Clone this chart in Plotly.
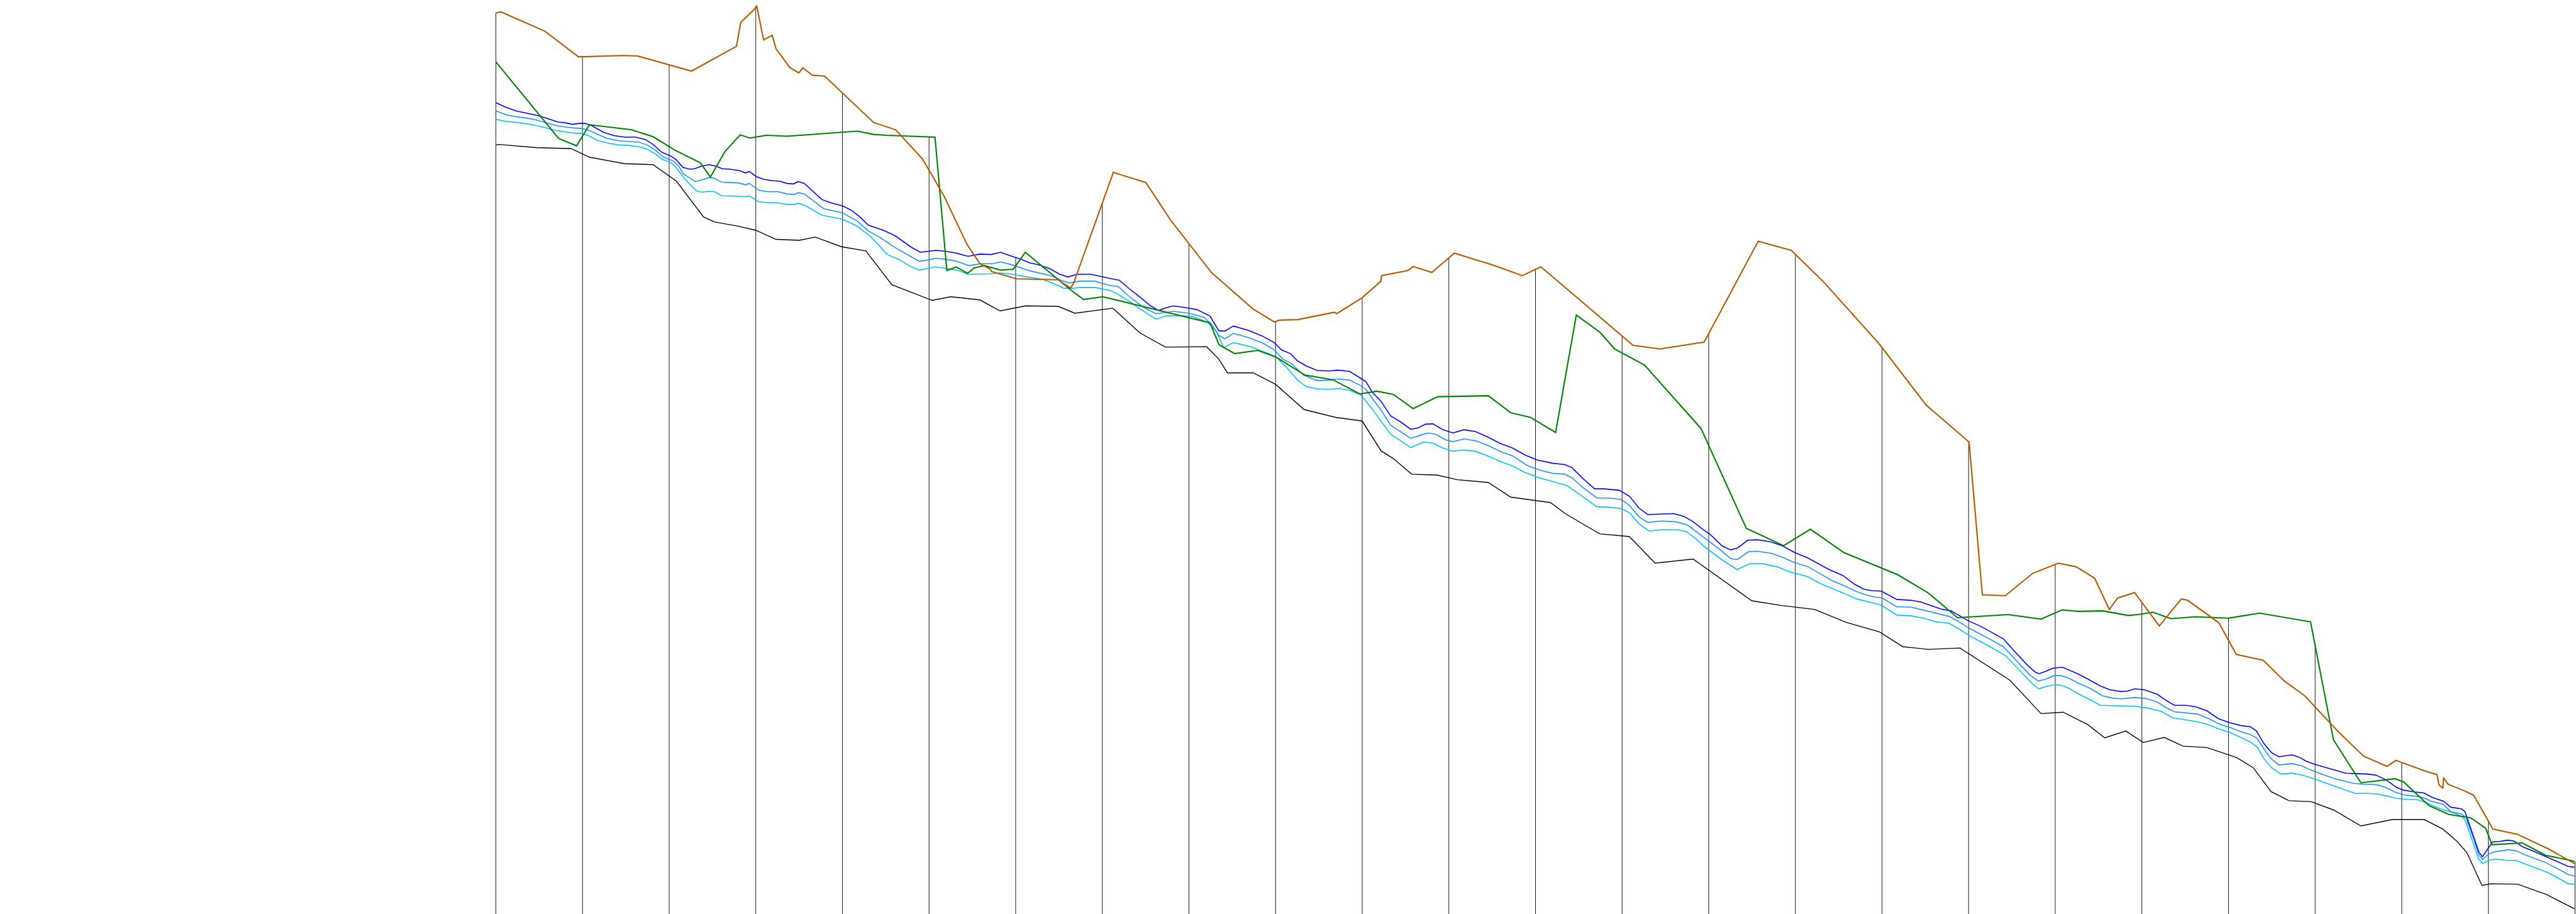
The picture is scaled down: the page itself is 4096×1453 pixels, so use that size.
import numpy as np
import plotly.graph_objects as go

# x = day index (vertical guide every 7 days), y = value
week_ticks = list(range(0, 169, 7))

orange = [(0.0,196.5),(0.41,196.7),(3.96,192.5),(6.67,186.9),(10.33,187.2),(11.44,187.1),(15.81,183.8),
    (19.44,189.2),(19.78,194.4),(20.89,197.3),(21.07,198.1),(21.63,190.6),(22.33,191.6),(22.63,188.7),
    (23.74,184.6),(24.48,183.4),(24.81,184.5),(25.56,182.9),(26.56,182.7),(30.52,172.6),(32.30,171.0),
    (34.48,164.6),(36.22,156.5),(38.07,146.0),(39.11,141.8),(39.96,140.6),(40.04,140.1),(42.07,138.5),
    (45.41,138.3),(46.44,136.5),(46.67,137.5),(49.89,161.7),(52.52,159.5),(54.52,151.3),(57.81,139.9),
    (61.19,131.9),(62.89,129.1),(63.33,129.5),(64.78,129.6),(67.74,131.2),(67.93,130.9),(69.96,134.3),
    (71.52,138.0),(71.56,139.2),(73.70,140.3),(74.11,141.2),(75.63,139.9),(77.44,144.1),(80.59,141.5),
    (82.93,139.2),(84.44,141.1),(91.89,124.0),(94.07,123.2),(97.63,124.7),(102.0,146.7),(104.67,144.7),
    (107.26,137.9),(111.78,124.3),(115.56,111.0),(119.04,102.9),(120.11,69.6),(121.96,69.4),(124.19,74.3),
    (126.26,76.5),(127.70,75.7),(129.19,73.2),(130.37,66.4),(131.04,68.9),(132.41,70.1),(134.41,62.8),
    (136.19,68.7),(136.70,68.4),(139.22,63.5),(140.63,56.6),(142.81,55.3),(144.52,50.8),(146.15,47.6),
    (148.96,39.5),(150.93,34.4),(152.81,32.2),(153.52,33.5),(155.85,31.2),(156.85,30.4),(157.0,28.2),
    (157.33,27.4),(157.37,29.7),(157.74,28.3),(159.11,26.8),(159.81,25.9),(161.37,18.5),(163.33,17.4),
    (165.85,14.2),(167.96,11.0)]

green = [(0.0,185.8),(5.07,169.1),(6.52,167.5),(7.56,172.1),(10.96,171.0),(12.70,169.5),(14.44,166.6),
    (16.52,163.8),(17.33,160.7),(18.52,166.3),(19.74,169.9),(20.52,169.2),(21.85,169.8),(23.52,169.6),
    (29.19,170.7),(30.52,170.0),(31.48,169.8),(35.48,169.4),(36.44,140.3),(37.19,141.1),(38.11,139.7),
    (38.67,140.9),(39.48,141.4),(40.78,140.4),(41.81,140.6),(42.78,144.3),(46.44,136.1),(47.48,134.0),
    (49.04,134.6),(57.70,128.9),(58.44,124.1),(59.70,122.2),(61.56,122.9),(63.0,121.5),(65.37,117.5),
    (67.63,116.5),(69.81,113.4),(71.19,114.0),(72.52,113.3),(74.11,110.2),(76.11,112.8),(80.19,113.0),
    (82.0,109.3),(83.59,108.3),(85.63,105.0),(87.30,130.6),(89.19,126.9),(90.41,123.2),(92.81,119.7),
    (97.37,105.9),(101.04,84.1),(104.04,80.3),(106.22,83.9),(108.93,78.8),(113.26,74.0),(115.74,70.0),
    (118.11,64.6),(122.19,65.3),(124.85,64.3),(126.56,66.3),(127.85,66.0),(129.85,66.1),(131.89,65.1),
    (132.70,65.3),(133.89,65.8),(135.37,64.4),(137.33,64.8),(139.96,64.5),(142.52,65.6),(145.85,64.0),
    (146.63,63.7),(148.48,38.0),(150.70,28.6),(153.44,29.5),(154.15,28.8),(156.22,23.6),(157.81,21.7),
    (159.56,21.0),(160.78,18.7),(161.30,15.1),(163.74,15.5),(165.63,12.8),(167.96,11.5)]

black = [(0.0,167.7),(0.22,167.8),(3.30,167.1),(6.07,166.9),(7.59,165.0),(10.41,163.6),(12.70,163.4),
    (14.59,159.8),(16.78,152.0),(17.67,150.9),(19.52,150.0),(20.99,149.1),(22.63,147.1),(24.52,146.9),
    (25.81,147.6),(27.93,145.5),(29.89,144.6),(32.0,137.2),(35.26,133.8),(36.74,134.6),(39.11,133.9),
    (40.74,131.5),(42.81,132.6),(45.44,132.5),(46.78,131.0),(49.85,132.1),(52.04,126.7),(54.11,123.6),
    (57.44,123.7),(58.41,121.0),(59.11,118.0),(61.19,118.0),(63.0,115.5),(65.30,110.0),(67.85,108.3),
    (70.0,107.5),(71.52,101.0),(72.52,99.3),(74.0,95.9),(76.07,95.7),(77.70,94.7),(80.19,94.1),(82.0,90.9),
    (85.22,89.7),(86.41,87.3),(89.19,82.9),(91.59,82.3),(93.67,76.5),(96.74,77.4),(101.48,68.3),
    (103.81,67.3),(106.56,66.4),(109.11,63.6),(111.81,61.5),(113.67,58.3),(115.74,57.7),(118.30,58.0),
    (122.33,51.0),(124.85,43.7),(126.63,44.0),(128.63,41.3),(130.0,38.4),(131.70,39.9),(133.11,37.4),
    (134.81,38.5),(136.33,36.6),(138.26,36.3),(140.67,34.1),(142.0,31.9),(143.44,26.7),(144.89,24.7),
    (146.67,24.5),(148.48,22.7),(150.70,19.2),(153.26,20.6),(155.81,20.6),(157.33,18.5),(158.48,15.8),
    (159.26,13.4),(160.48,6.2),(161.19,6.6),(163.37,6.5),(165.74,4.2),(167.96,1.1)]

blue = [(0.0,176.9),(0.81,175.9),(1.67,175.1),(2.52,174.6),(3.41,174.1),(4.33,173.3),(5.04,172.7),(5.63,172.5),
    (6.19,172.2),(6.74,172.4),(7.19,172.4),(7.74,171.9),(8.74,170.4),(9.59,169.7),(10.44,169.4),(11.30,169.4),
    (12.07,168.9),(12.70,167.8),(13.41,166.1),(14.11,165.3),(14.56,164.5),(15.11,162.8),(15.67,162.4),
    (16.04,162.5),(16.67,163.1),(17.22,163.4),(17.74,163.1),(18.30,162.5),(18.93,162.4),(19.67,162.1),
    (20.15,161.6),(20.48,161.9),(21.04,160.8),(21.63,160.2),(22.33,159.9),(22.93,159.8),(23.52,159.3),
    (24.04,159.2),(24.44,159.7),(24.93,159.3),(25.52,157.8),(26.33,155.8),(27.04,155.1),(28.0,154.4),
    (28.70,153.5),(29.41,152.0),(30.11,150.2),(30.70,149.7),(31.30,149.1),(32.26,147.9),(32.96,146.6),
    (33.56,145.4),(34.30,144.3),(34.96,144.5),(35.56,144.7),(36.37,144.5),(37.22,144.1),(38.15,143.4),
    (39.11,143.9),(40.04,143.8),(40.78,144.3),(41.59,143.5),(42.41,142.8),(43.11,142.0),(43.81,141.6),
    (44.78,140.7),(45.56,139.5),(46.22,138.9),(46.96,139.5),(48.07,139.5),(49.0,138.9),(49.78,138.5),
    (50.37,138.2),(51.33,136.0),(52.15,134.3),(52.85,132.7),(53.56,131.6),(54.15,132.2),(54.74,132.6),
    (55.56,132.3),(56.63,131.8),(57.70,130.4),(58.41,127.2),(58.89,127.1),(59.59,128.2),(60.78,127.3),
    (61.96,126.0),(62.89,124.6),(63.48,123.0),(64.19,122.2),(64.78,120.6),(65.48,119.5),(66.37,118.5),
    (67.30,118.4),(68.07,118.6),(69.0,118.3),(69.89,116.8),(70.30,116.1),(70.81,113.8),(71.52,111.8),
    (72.30,108.6),(73.11,107.3),(73.93,105.7),(74.52,106.0),(75.11,106.8),(75.70,106.9),(76.52,105.6),
    (77.33,104.9),(78.22,105.6),(79.15,105.2),(80.15,104.0),(81.15,102.6),(82.15,101.6),(83.15,100.1),
    (84.15,99.0),(85.37,98.3),(86.37,98.0),(86.96,97.3),(87.78,95.1),(88.78,92.7),(89.56,92.7),(90.78,92.4),
    (91.59,91.1),(92.37,88.5),(93.07,87.1),(94.0,87.2),(95.19,87.3),(96.0,86.7),(96.70,85.6),(97.52,83.9),
    (98.11,82.8),(99.11,80.2),(99.78,79.4),(100.33,79.8),(101.15,81.5),(101.93,81.6),(102.93,81.2),
    (103.93,80.3),(104.96,78.8),(105.96,77.7),(106.74,76.6),(107.74,75.1),(108.85,73.8),(109.78,71.9),
    (110.56,70.8),(111.19,70.5),(111.96,70.4),(113.19,68.6),(114.37,68.4),(115.19,68.0),(116.0,67.2),
    (116.78,66.5),(117.59,66.1),(118.19,65.2),(119.0,63.9),(120.0,62.7),(121.0,61.2),(121.81,60.0),
    (122.81,57.0),(123.81,54.1),(124.41,52.7),(124.70,52.4),(125.22,52.9),(125.81,53.6),(126.59,53.8),
    (127.81,52.4),(128.59,51.3),(129.67,49.7),(130.41,48.9),(131.33,48.5),(131.81,48.6),(132.41,49.1),
    (133.19,48.9),(134.26,47.9),(134.89,46.7),(135.63,45.5),(136.56,45.5),(137.33,45.2),(138.26,44.3),
    (139.19,42.6),(140.11,41.7),(141.0,41.1),(141.78,40.8),(142.26,39.9),(142.85,37.2),(143.48,35.2),
    (144.07,34.3),(145.15,34.7),(145.70,34.2),(146.30,33.3),(147.0,32.6),(148.19,31.7),(149.48,30.7),
    (150.37,30.6),(151.26,30.5),(151.89,30.3),(152.70,29.3),(153.59,27.6),(154.15,27.0),(155.04,26.6),
    (155.78,26.4),(156.48,25.4),(157.37,24.6),(157.96,23.3),(158.85,22.9),(159.11,22.3),(159.70,17.6),
    (160.22,13.6),(160.52,12.5),(161.04,14.6),(161.33,15.7),(161.89,15.8),(162.56,16.1),(163.07,15.9),
    (163.81,14.6),(164.81,13.5),(166.0,12.1),(167.0,10.9),(167.44,10.4),(167.96,10.2)]

dodgerblue = [(0.0,175.1),(0.93,174.2),(1.78,173.8),(2.63,173.5),(3.33,173.1),(4.07,172.5),(4.93,171.9),
    (5.63,171.6),(6.26,171.4),(6.96,171.3),(7.59,170.8),(8.30,169.9),(9.04,169.1),(9.89,168.6),(10.70,168.5),
    (11.56,168.3),(12.30,167.6),(12.85,166.6),(13.56,165.0),(14.26,164.3),(14.78,163.1),(15.11,161.5),
    (15.59,160.6),(16.11,159.7),(16.67,160.1),(17.22,160.6),(17.67,160.4),(18.22,159.6),(18.93,159.5),
    (19.67,159.4),(20.15,159.0),(20.48,159.3),(21.26,157.8),(21.96,157.5),(22.81,157.5),(23.52,157.0),
    (24.11,156.9),(24.44,157.3),(24.93,157.0),(25.63,155.5),(26.48,153.8),(28.0,152.9),(29.19,151.1),
    (30.11,148.9),(31.07,147.5),(32.26,145.3),(33.44,143.5),(34.22,142.3),(35.07,142.7),(35.56,143.0),
    (36.52,142.7),(37.26,142.3),(38.19,141.4),(39.19,141.8),(40.11,141.8),(40.78,142.2),(41.78,141.5),
    (43.07,140.3),(44.85,139.2),(45.67,138.2),(46.30,137.6),(47.22,138.0),(48.37,138.0),(49.56,137.1),
    (50.30,136.8),(51.07,134.9),(52.26,132.4),(53.33,130.9),(53.93,131.1),(54.74,131.4),(56.04,131.0),
    (57.22,130.1),(57.81,128.6),(58.41,126.2),(58.89,125.4),(59.59,126.6),(60.78,125.7),(61.96,124.5),
    (62.89,123.0),(63.59,121.0),(64.30,120.0),(65.26,117.5),(66.37,116.3),(67.30,116.4),(68.07,116.7),
    (69.0,116.4),(69.89,115.2),(70.30,114.4),(70.89,112.1),(71.52,109.9),(72.30,106.6),(73.11,105.2),
    (73.93,103.7),(74.70,104.4),(75.33,104.9),(75.93,104.6),(76.74,103.4),(77.33,103.0),(78.22,103.6),
    (79.15,103.2),(80.15,102.2),(81.15,100.9),(82.15,99.9),(83.33,97.8),(84.33,96.8),(85.37,96.1),
    (86.37,95.9),(86.96,95.1),(87.78,93.1),(88.96,90.7),(89.96,90.7),(90.89,90.4),(91.59,89.1),(92.37,86.6),
    (93.07,85.4),(94.19,85.7),(95.41,85.5),(96.30,84.8),(96.93,83.5),(97.93,81.5),(98.93,79.4),(99.78,77.5),
    (100.30,77.3),(101.22,79.0),(101.93,79.1),(103.15,78.6),(103.93,77.8),(104.96,76.6),(105.96,75.8),
    (106.74,74.6),(107.96,72.7),(108.85,71.7),(109.85,70.4),(110.78,69.5),(111.48,69.1),(111.96,69.0),
    (113.19,67.0),(114.37,66.9),(115.59,66.1),(116.59,65.4),(117.41,64.9),(118.0,64.1),(119.0,62.4),
    (120.19,60.7),(121.81,58.3),(122.81,55.4),(124.0,52.0),(124.63,50.8),(125.22,51.2),(125.93,52.0),
    (126.44,52.0),(127.04,51.5),(127.81,50.4),(128.74,49.3),(129.81,47.6),(130.59,47.1),(131.33,46.9),
    (132.41,47.2),(133.33,47.0),(134.26,46.2),(134.89,45.1),(135.63,44.1),(136.56,43.9),(137.48,43.6),
    (138.41,42.6),(139.19,41.5),(140.11,40.7),(140.85,39.9),(141.78,39.1),(142.33,38.3),(142.85,36.0),
    (143.48,33.8),(144.07,32.5),(145.15,32.8),(145.93,32.3),(146.56,31.5),(147.44,30.6),(148.48,29.6),
    (149.33,29.0),(150.07,28.5),(150.96,28.3),(151.52,28.3),(152.11,28.1),(152.70,27.6),(153.44,26.6),
    (154.15,26.0),(155.33,25.6),(155.78,25.3),(156.48,24.5),(157.37,23.9),(157.96,22.3),(158.85,21.8),
    (159.19,21.0),(159.70,17.3),(160.22,13.0),(160.52,11.9),(161.04,13.1),(161.59,13.6),(162.63,14.0),
    (163.22,13.8),(164.07,12.8),(165.56,11.3),(167.0,9.3),(167.44,8.6),(167.96,8.3)]

deepskyblue = [(0.0,173.3),(0.67,172.9),(1.67,172.6),(2.52,172.3),(3.33,171.9),(4.07,171.4),(4.78,170.9),
    (5.48,170.6),(6.19,170.3),(6.89,170.2),(7.44,169.8),(8.19,168.7),(9.04,168.1),(9.89,167.7),(10.70,167.6),
    (11.56,167.3),(12.22,166.8),(12.85,165.8),(13.41,164.6),(14.11,163.9),(14.56,162.8),(15.11,160.8),
    (15.59,159.3),(16.26,157.6),(16.67,157.4),(17.22,157.6),(17.67,157.5),(18.26,156.6),(19.0,156.6),
    (19.70,156.5),(20.19,156.4),(20.48,156.6),(21.26,155.3),(22.11,155.1),(22.81,155.1),(23.52,154.7),
    (24.11,154.7),(24.44,155.0),(25.04,154.4),(26.33,152.4),(28.0,151.5),(29.19,150.0),(30.37,147.5),
    (31.63,143.8),(32.59,142.7),(33.44,141.3),(34.22,140.4),(35.07,140.9),(35.56,141.1),(36.52,140.7),
    (37.26,140.4),(38.15,139.5),(39.19,139.6),(40.11,139.6),(40.67,139.8),(41.48,139.6),(42.74,139.0),
    (44.19,138.4),(45.11,137.4),(45.85,136.5),(46.44,136.4),(47.15,136.6),(48.44,136.6),(49.56,136.0),
    (50.11,135.4),(50.89,134.1),(51.96,132.1),(53.33,129.7),(54.15,130.4),(55.11,130.5),(56.30,130.3),
    (57.44,129.1),(58.19,127.2),(58.81,123.5),(59.59,124.6),(61.0,123.7),(62.41,122.2),(63.11,121.3),
    (63.85,119.3),(64.78,116.4),(65.48,115.0),(66.37,114.5),(67.30,114.4),(68.07,114.6),(69.0,114.2),
    (69.89,113.2),(70.70,110.5),(71.52,107.5),(72.30,104.6),(73.11,103.2),(73.93,101.7),(74.93,102.9),
    (75.70,102.7),(76.52,101.6),(77.33,100.9),(78.22,101.2),(79.15,100.9),(80.33,99.7),(81.15,98.7),
    (82.15,97.7),(83.15,96.3),(84.33,95.1),(85.37,94.3),(86.56,93.4),(87.78,91.1),(88.96,88.8),(89.96,88.7),
    (90.96,88.4),(91.59,87.5),(92.37,85.1),(93.19,83.5),(94.19,83.8),(95.41,83.8),(96.19,83.4),(96.93,81.9),
    (97.70,80.0),(98.93,77.5),(100.30,75.1),(101.33,76.4),(102.33,76.4),(103.56,75.7),(104.56,74.6),
    (105.96,73.6),(107.15,71.9),(108.96,69.9),(109.96,68.7),(111.19,67.9),(111.96,67.3),(113.19,65.2),
    (114.37,65.0),(115.37,64.5),(116.41,63.7),(117.41,63.4),(118.19,62.2),(119.19,60.5),(120.59,58.5),
    (122.0,56.3),(123.22,52.9),(124.22,50.0),(124.67,49.1),(125.37,49.7),(125.96,50.0),(126.44,49.9),
    (127.04,49.3),(127.81,48.1),(128.74,46.8),(129.67,45.5),(130.89,45.4),(132.41,45.3),(133.48,44.9),
    (134.56,44.2),(135.48,42.8),(136.41,42.4),(137.33,42.0),(138.26,41.4),(139.19,40.4),(140.11,39.6),
    (140.85,38.7),(141.78,37.5),(142.33,36.4),(142.85,33.9),(143.48,31.9),(144.26,30.5),(145.15,30.7),
    (146.07,30.2),(147.0,29.4),(147.93,28.5),(148.48,27.9),(149.48,27.0),(150.22,26.3),(151.26,26.3),
    (151.96,26.2),(152.70,25.8),(153.59,25.2),(154.44,25.0),(155.33,24.9),(155.93,24.3),(156.78,23.3),
    (157.52,22.6),(158.26,22.0),(158.96,21.1),(159.19,20.0),(159.70,16.0),(160.22,12.0),(160.52,11.0),
    (161.04,11.7),(161.59,12.0),(162.48,11.7),(163.22,11.7),(164.37,10.5),(165.85,9.0),(167.0,7.3),
    (167.44,6.6),(167.96,6.5)]

series = [
    ("black", black, "#000000", 1.4),
    ("deepskyblue", deepskyblue, "#00BFFF", 1.6),
    ("dodgerblue", dodgerblue, "#1E90FF", 1.6),
    ("blue", blue, "#0000FF", 1.6),
    ("green", green, "#008000", 2.1),
    ("orange", orange, "#B35A00", 2.1),
]

def xs(s):
    return [p[0] for p in s]

def ys(s):
    return [p[1] for p in s]

# vertical guides: from the bottom up to the highest series value at each tick
tops = []
for t in week_ticks:
    tops.append(max(float(np.interp(t, xs(s), ys(s))) for _, s, _, _ in series))
vx, vy = [], []
for t, top in zip(week_ticks, tops):
    vx += [t, t, None]
    vy += [-5, top, None]

fig = go.Figure()
fig.add_trace(go.Scatter(x=vx, y=vy, mode="lines", line=dict(color="#1a1a1a", width=1.0),
                         hoverinfo="skip", showlegend=False))
for name, s, color, w in series:
    fig.add_trace(go.Scatter(x=xs(s), y=ys(s), mode="lines", name=name,
                             line=dict(color=color, width=w), showlegend=False))

fig.update_layout(
    width=4096, height=1453,
    margin=dict(l=0, r=0, t=0, b=0),
    paper_bgcolor="white", plot_bgcolor="white",
    xaxis=dict(range=[-40.07, 168.08], visible=False, showgrid=False, zeroline=False),
    yaxis=dict(range=[0, 199.3], visible=False, showgrid=False, zeroline=False),
    showlegend=False,
)
fig.write_html(
    "out.html",
    config={"displayModeBar": False},
    post_script="document.body.style.margin='0';document.body.style.padding='0';document.body.style.overflow='hidden';",
)
